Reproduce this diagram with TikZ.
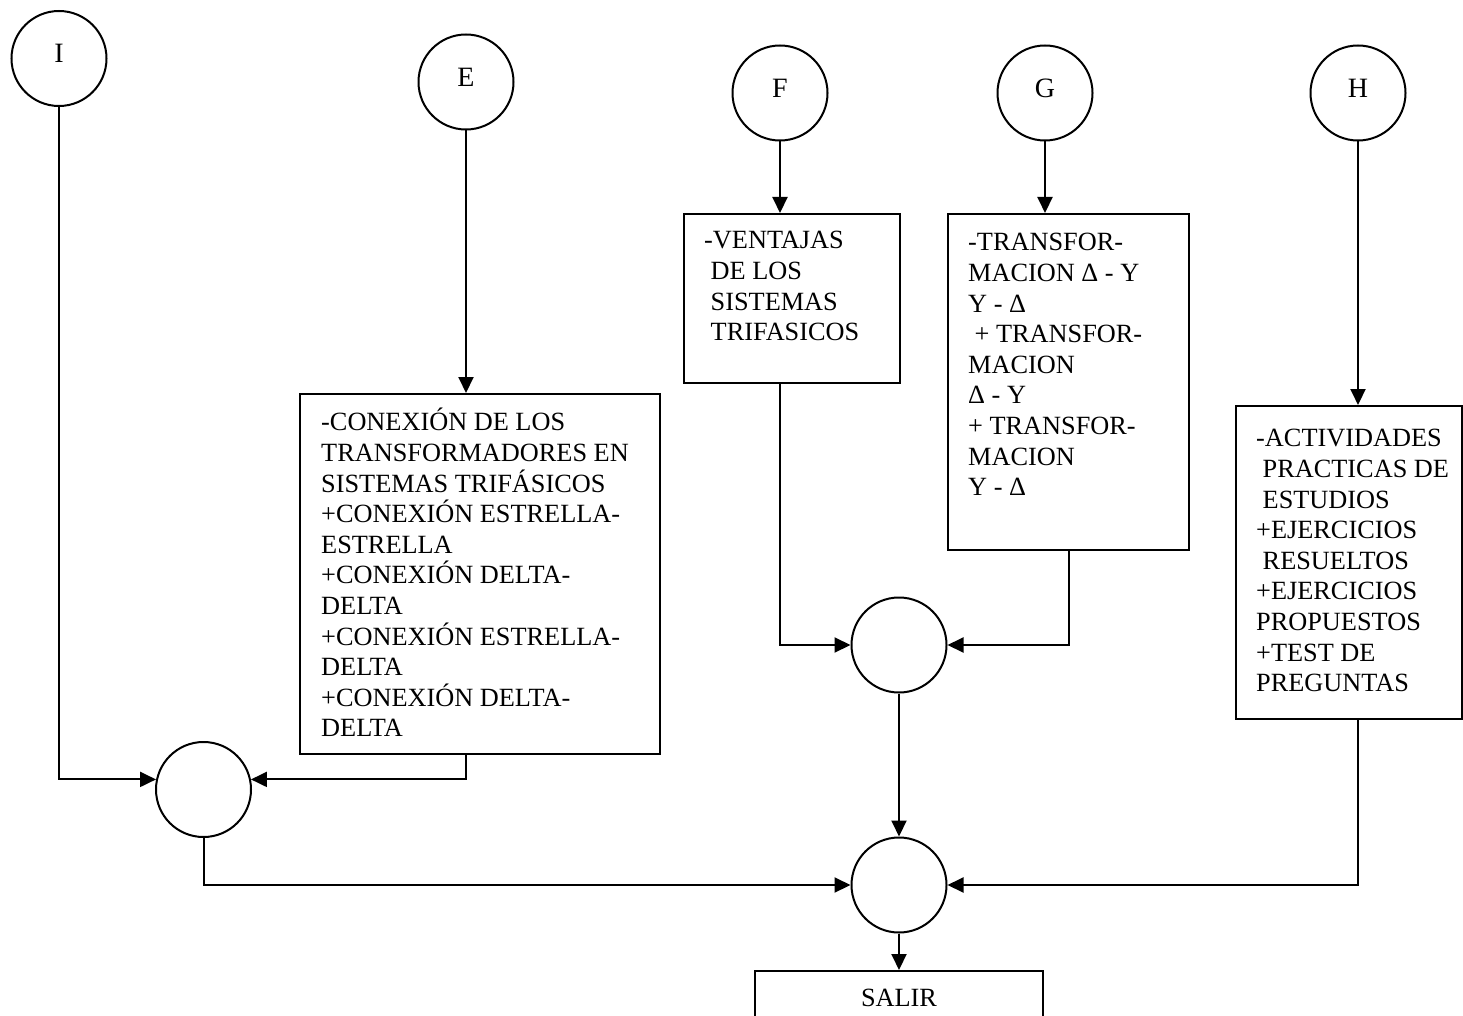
\documentclass[tikz,border=0pt]{standalone}
\usepackage{fontspec}
\setmainfont{Liberation Serif}
\usetikzlibrary{arrows.meta}
\newcommand\myfs{\fontsize{26.3pt}{30.6pt}\selectfont}
\newcommand\mycf{\fontsize{28pt}{30pt}\selectfont}
\newcommand\lsp{\hspace*{6.5pt}}
\begin{document}
\begin{tikzpicture}[x=1pt,y=-1pt,
  circ/.style={circle, draw, line width=2pt, minimum size=95pt, inner sep=0pt, font=\mycf, text height=19pt, text depth=10.6pt},
  boxx/.style={draw, line width=2pt, rectangle, inner sep=0pt, anchor=north west},
  txt/.style={anchor=north west, inner sep=0pt, align=left, font=\myfs},
  arr/.style={line width=2pt, -{Triangle[length=16pt,width=15pt]}}]
\clip (0,0) rectangle (1463,1016);
\fill[white] (0,0) rectangle (1463,1016);

% top circles
\node[circ] (I) at (59,58.5) {I};
\node[circ] (E) at (466,82) {E};
\node[circ] (F) at (780,93) {F};
\node[circ] (G) at (1045,93) {G};
\node[circ] (H) at (1358,93) {H};

% boxes
\node[boxx, minimum width=360pt, minimum height=360pt] (Eb) at (299,393) {};
\node[boxx, minimum width=216pt, minimum height=169pt] (Fb) at (683,213) {};
\node[boxx, minimum width=241pt, minimum height=336pt] (Gb) at (947,213) {};
\node[boxx, minimum width=226pt, minimum height=313pt] (Hb) at (1235,405) {};

% box texts
\node[txt] (Et) at (321,406.6) {\rule{0pt}{24pt}-CONEXIÓN DE LOS\\TRANSFORMADORES EN\\SISTEMAS TRIFÁSICOS\\+CONEXIÓN ESTRELLA-\\ESTRELLA\\+CONEXIÓN DELTA-\\DELTA\\+CONEXIÓN ESTRELLA-\\DELTA\\+CONEXIÓN DELTA-\\DELTA};
\node[txt] (Ft) at (704,224.6) {\rule{0pt}{24pt}-VENTAJAS\\\lsp DE LOS\\\lsp SISTEMAS\\\lsp TRIFASICOS};
\node[txt] (Gt) at (968,226.6) {\rule{0pt}{24pt}-TRANSFOR-\\MACION Δ - Y\\Y - Δ\\\lsp + TRANSFOR-\\MACION\\Δ - Y\\+ TRANSFOR-\\MACION\\Y - Δ};
\node[txt] (Ht) at (1256,422.6) {\rule{0pt}{24pt}-ACTIVIDADES\\\lsp PRACTICAS DE\\\lsp ESTUDIOS\\+EJERCICIOS\\\lsp RESUELTOS\\+EJERCICIOS\\PROPUESTOS\\+TEST DE\\PREGUNTAS};

% junction circles
\node[circ] (c1) at (203.5,789.5) {};
\node[circ] (c2) at (899,645) {};
\node[circ] (c3) at (899,885) {};

% exit box
\node[draw, line width=2pt, rectangle, anchor=north, minimum width=288pt, minimum height=54pt, inner sep=0pt, font=\myfs] (S) at (899,970) {SALIR};

% connectors
\draw[arr] (I) |- (c1.168);
\draw[arr] (E) -- (Eb.north -| E);
\draw[arr] (Eb.south -| E) |- (c1.12);
\draw[arr] (F) -- (Fb.north -| F);
\draw[arr] (Fb.south -| F) |- (c2);
\draw[arr] (G) -- (Gb.north -| G);
\draw[arr] (Gb.south) |- (c2);
\draw[arr] (H) -- (Hb.north -| H);
\draw[arr] (Hb.south -| H) |- (c3);
\draw[arr] (c1) |- (c3);
\draw[arr] (c2) -- (c3);
\draw[arr] (c3) -- (S);
\end{tikzpicture}
\end{document}
